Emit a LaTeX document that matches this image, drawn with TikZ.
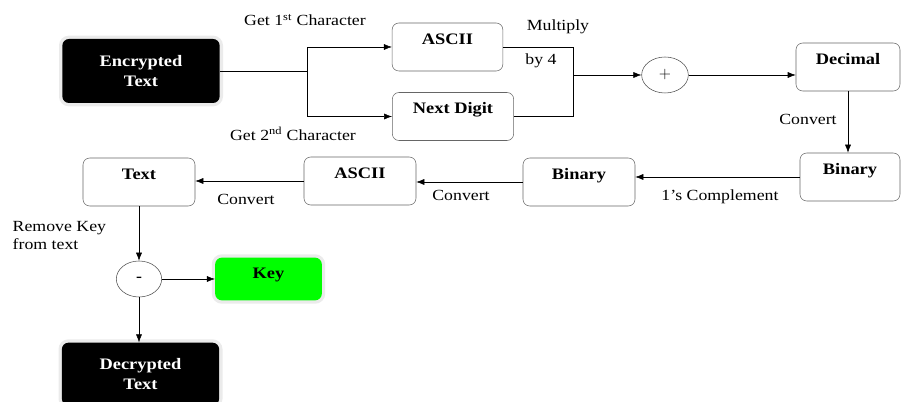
\documentclass[tikz,border=0pt]{standalone}
\usepackage{fontspec}
\setmainfont{Liberation Serif}[FakeStretch=1.15]
\usetikzlibrary{arrows.meta,shapes.geometric}
\begin{document}
\begin{tikzpicture}[x=0.75pt,y=-0.75pt,thin]
			\tikzset{every node/.style={font=\fontsize{11.6}{13.5}\selectfont},
				box/.style={draw=black!60,rounded corners=5pt,font=\bfseries\fontsize{12}{14}\selectfont,
					inner xsep=2pt,inner ysep=3pt,text height=13pt,text depth=17pt,minimum width=84pt},
				endbox/.style={fill=black,text=white,rounded corners=5pt,align=center,
					font=\bfseries\fontsize{12}{15}\selectfont,minimum width=118pt,
					preaction={draw=black!8,line width=5pt}},
				opnode/.style={draw=black!70,ellipse,inner sep=0pt,minimum width=35pt,minimum height=27pt},
				arr/.style={-{Latex[length=6pt,width=4.5pt]}}}
			\useasboundingbox (0,0) rectangle (901,402);
			\node[endbox,minimum height=48pt] (enc) at (141,71) {Encrypted\\Text};
			\node[box,minimum width=83pt] (asc1) at (447.5,47) {ASCII};
			\node[box,minimum width=91pt] (nxt) at (453,116.5) {Next Digit};
			\node[opnode] (plus) at (665,75) {$+$};
			\node[box,minimum width=78pt] (dec) at (848,67) {Decimal};
			\node[box,minimum width=75pt] (binr) at (850,177) {Binary};
			\node[box] (binm) at (579,182) {Binary};
			\node[box] (asc2) at (360,181) {ASCII};
			\node[box] (txt) at (139,182) {Text};
			\node[opnode,minimum width=34pt] (minus) at (139,279) {\textbf{-}};
			\node[box,draw=none,fill=green,text depth=13pt,minimum width=80pt,
				preaction={draw=black!8,line width=5pt}] (key) at (268.5,279) {Key};
			\node[endbox,minimum height=47pt] (decr) at (140.5,374) {Decrypted\\Text};
			\coordinate (split) at (307,71);
			\coordinate (join) at (573,75);
			\draw (enc.east) -- (split);
			\draw[arr] (split) |- (asc1.west);
			\draw[arr] (split) |- (nxt.west);
			\draw (asc1.east) -| (join);
			\draw (nxt.east) -| (join);
			\draw[arr] (join) -- (plus.west);
			\draw[arr] (plus.east) -- (plus.east -| dec.west);
			\draw[arr] (dec.south) -- (dec.south |- binr.north);
			\draw[arr] (binr.west) -- (binr.west -| binm.east);
			\draw[arr] (binm.west) -- (binm.west -| asc2.east);
			\draw[arr] (asc2.west) -- (asc2.west -| txt.east);
			\draw[arr] (txt.south) -- (minus.north);
			\draw[arr] (minus.east) -- (minus.east -| key.west);
			\draw[arr] (minus.south) -- (minus.south |- decr.north);
			\path
			(305,20) node (l1) {Get 1\textsuperscript{st} Character}
			(293,134) node (l2) {Get 2\textsuperscript{nd} Character}
			(558,27) node (l3) {Multiply}
			(541,61) node (l4) {by 4}
			(808,119) node (l5) {Convert}
			(720,197) node (l6) {1’s Complement}
			(461,195) node (l7) {Convert}
			(246,199) node (l8) {Convert}
			(8,236) node[anchor=west,align=left] (l9) {Remove Key\\from text}
			;
		\end{tikzpicture}
\end{document}
